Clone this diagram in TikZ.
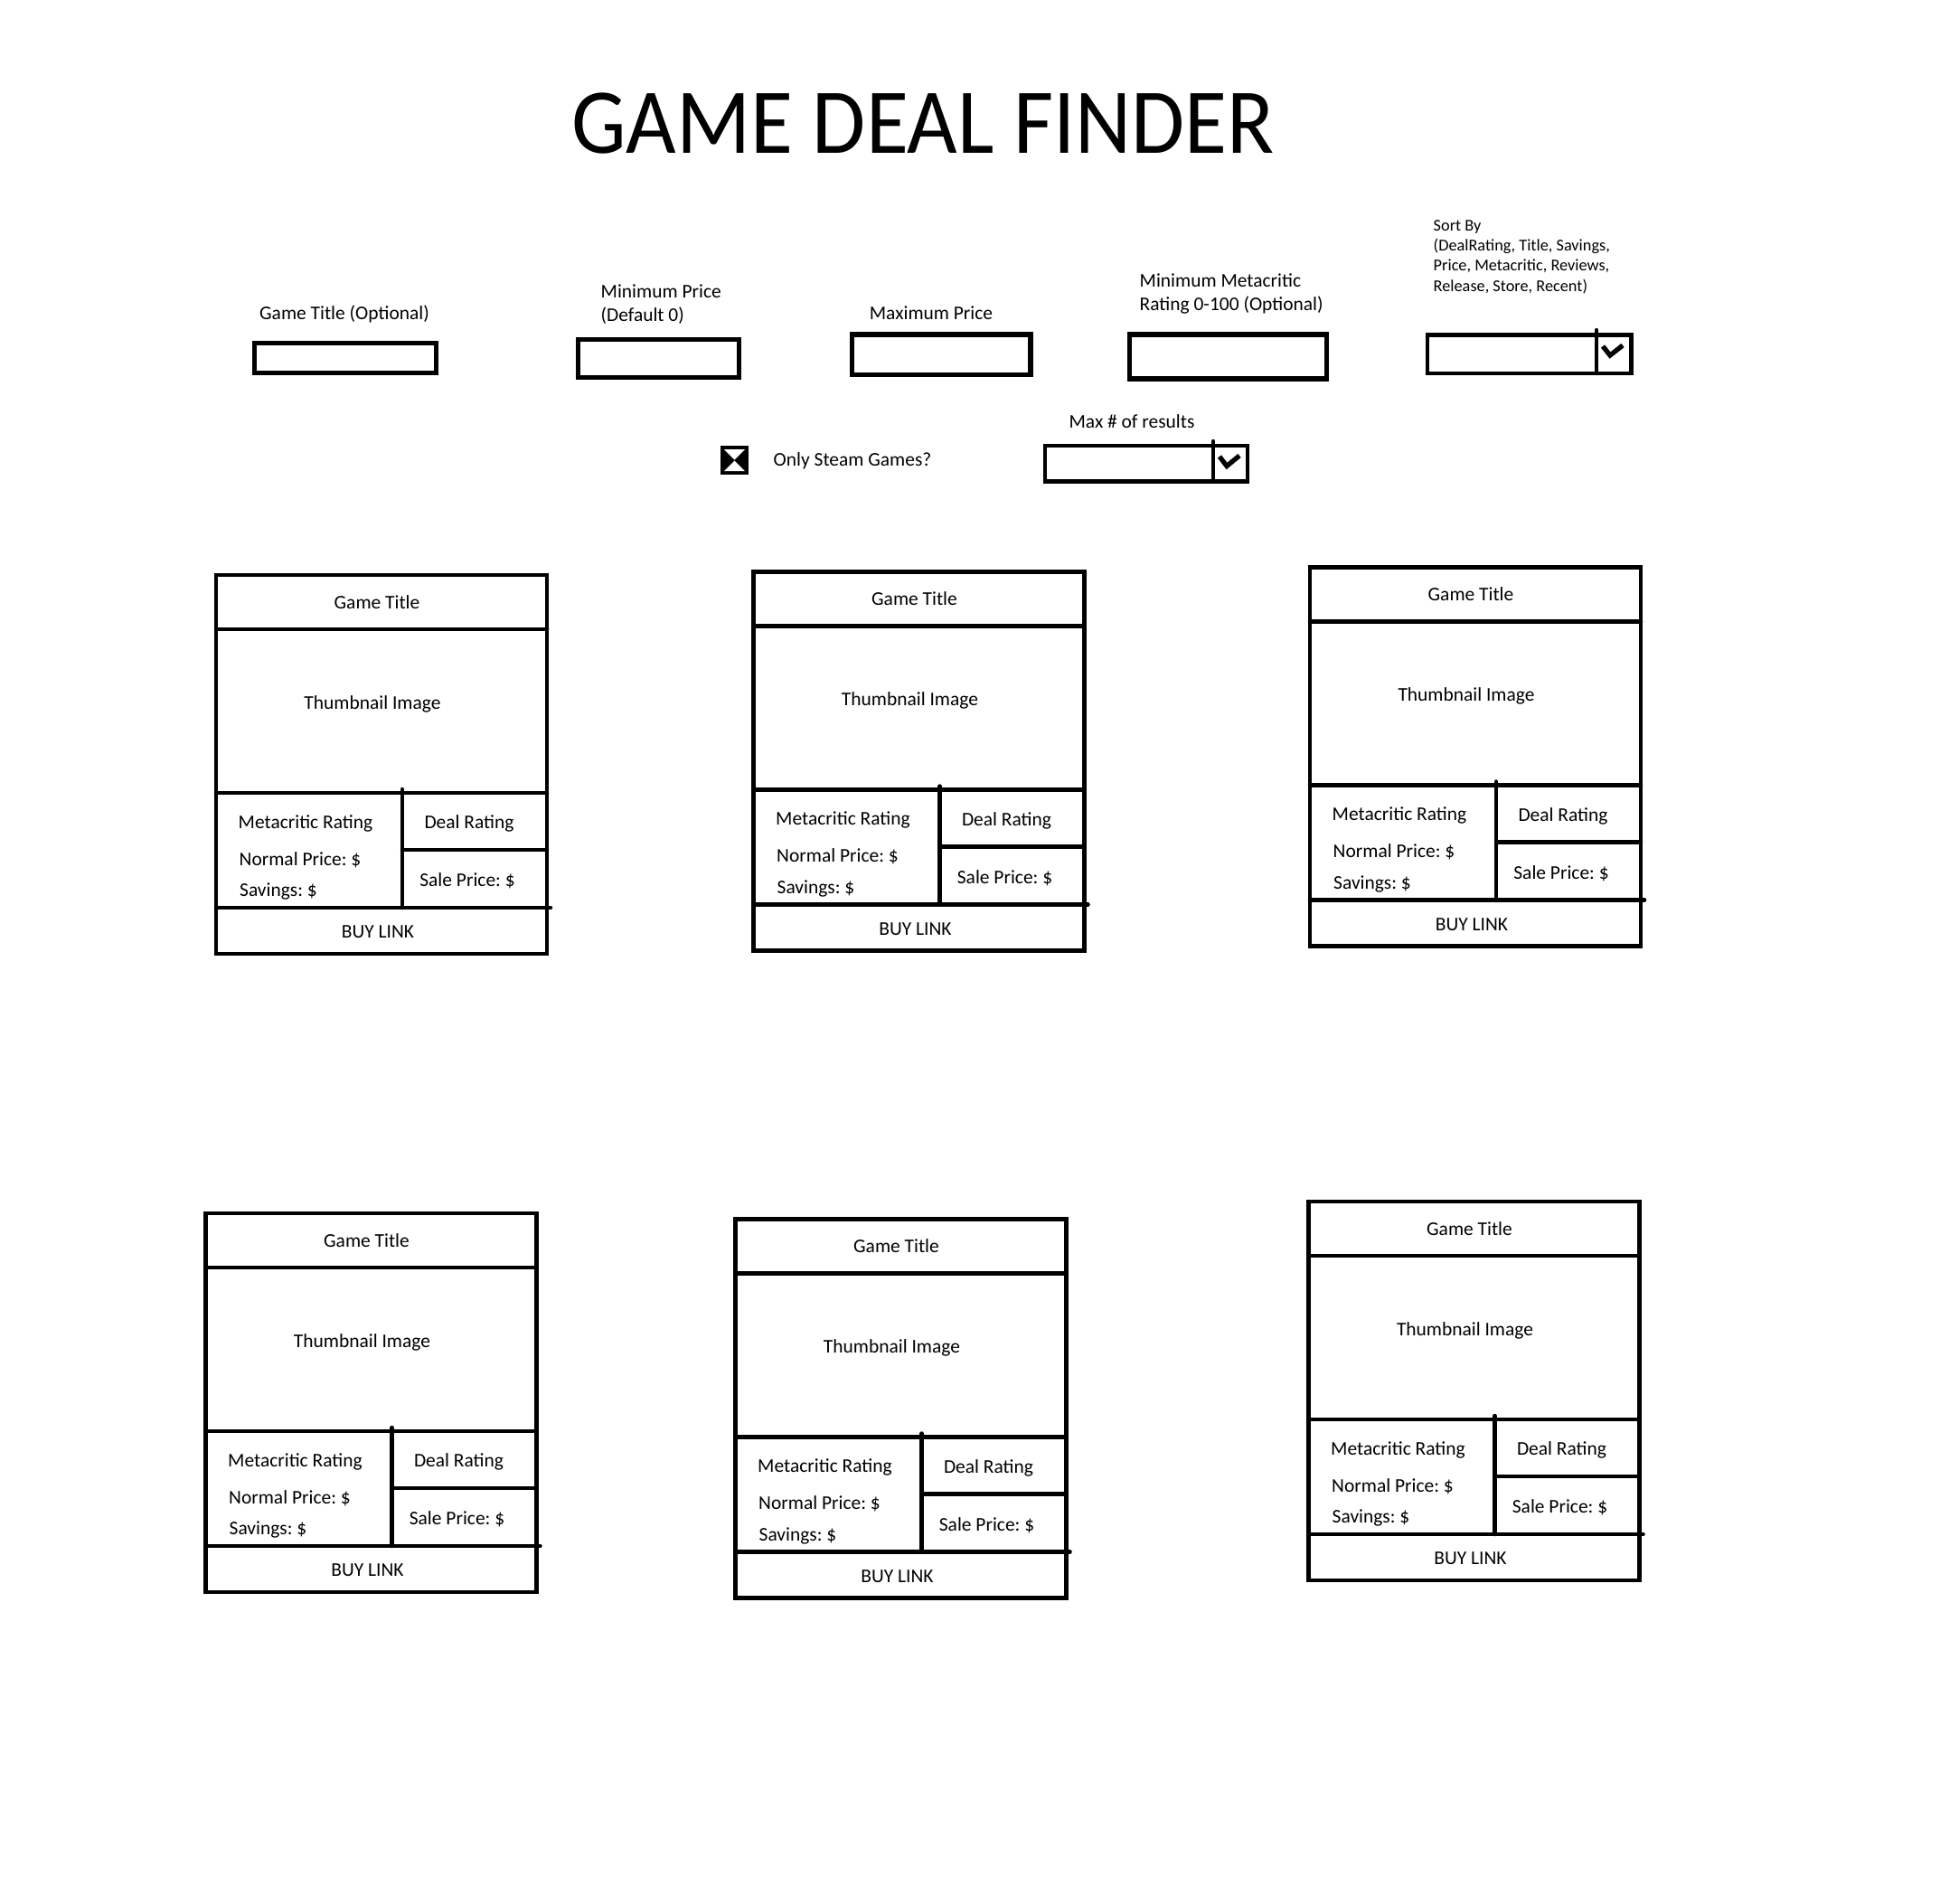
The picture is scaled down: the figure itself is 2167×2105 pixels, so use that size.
\documentclass[tikz,border=0pt]{standalone}
\usepackage{fontspec}
\setmainfont{Carlito}
\frenchspacing
\begin{document}
\begin{tikzpicture}[x=0.01cm, y=-0.01cm,
	lbl/.style={inner sep=0pt, font=\fontsize{6.1}{7.3}\selectfont},
	small/.style={inner sep=0pt, align=left, font=\fontsize{5.2}{6.35}\selectfont},
	field/.style={draw, line width=1.5pt},
	card/.style={draw, line width=1.28pt, line cap=round}]
	\useasboundingbox (0,0) rectangle (2167,2105);
	\node[inner sep=0pt, anchor=base, xscale=0.935, font=\fontsize{29.2}{34}\selectfont] (head) at (1021,169) {GAME DEAL FINDER};

	% Search fields
	\node[lbl, anchor=base] (gtitle) at (381,353) {Game Title (Optional)};
	\draw[field] (281.6,379.6) rectangle (482.4,412.4);
	\node[lbl, anchor=base west, align=left] (minprice) at (664,355) {Minimum Price\\(Default 0)};
	\draw[field] (639.6,375.6) rectangle (817.4,417.4);
	\node[lbl, anchor=base] (maxprice) at (1030,353) {Maximum Price};
	\draw[field] (942.7,370) rectangle (1140,414.7);
	\node[lbl, anchor=base west, align=left] (minmeta) at (1260,343) {Minimum Metacritic\\Rating 0-100 (Optional)};
	\draw[field] (1249.3,370) rectangle (1467.3,419);
	\node[small, anchor=base west] (sortby) at (1585,322) {Sort By\\(DealRating, Title, Savings,\\Price, Metacritic, Reviews,\\Release, Store, Recent)};
	\draw[field, line width=1.25pt] (1579,370.5) rectangle (1804.5,413);
	\draw[line width=1.25pt, line cap=round] (1766,365) -- (1766,413);
	\draw[line width=1.5pt] (1773,383) -- (1781,393) -- (1795,382);

	% Steam option and result count
	\fill (797,493) rectangle (828,525);
	\fill[white] (801,497) -- (824,497) -- (812.5,508.5) -- cycle;
	\fill[white] (801,521) -- (824,521) -- (812.5,509.5) -- cycle;
	\node[lbl, anchor=base west] (steam) at (855,515) {Only Steam Games?};
	\node[lbl, anchor=base] (maxres) at (1252,473) {Max \# of results};
	\draw[field, line width=1.25pt] (1156,493) rectangle (1380,532.5);
	\draw[line width=1.25pt, line cap=round] (1342,488) -- (1342,532.5);
	\draw[line width=1.5pt] (1349,505) -- (1357,515.5) -- (1371,504);

	% Result cards
	\foreach \cx/\cy/\k in {239/636/1, 833.5/632.5/2, 1449/627.5/3, 227.5/1342/4, 813.5/1348.5/5, 1447.5/1329/6} {
		\begin{scope}[shift={(\cx,\cy)}]
			\draw[card, line join=miter] (0,0) rectangle (366,419);
			\draw[card] (0,60) -- (366,60);
			\draw[card] (0,241) -- (366,241);
			\draw[card] (206,237) -- (206,368);
			\draw[card] (206,304) -- (366,304);
			\draw[card] (0,368) -- (370,368);
			\node[lbl, anchor=base] (title\k) at (178,37) {Game Title};
			\node[lbl, anchor=base] (thumb\k) at (173,148) {Thumbnail Image};
			\node[lbl, anchor=base west] (meta\k) at (24,280) {Metacritic Rating};
			\node[lbl, anchor=base west] (normal\k) at (25,321) {Normal Price: \$};
			\node[lbl, anchor=base west] (save\k) at (25.5,355.5) {Savings: \$};
			\node[lbl, anchor=base] (deal\k) at (280,280.5) {Deal Rating};
			\node[lbl, anchor=base] (sale\k) at (278,344.5) {Sale Price: \$};
			\node[lbl, anchor=base] (buy\k) at (179,401.5) {BUY LINK};
		\end{scope}
	}
\end{tikzpicture}
\end{document}
